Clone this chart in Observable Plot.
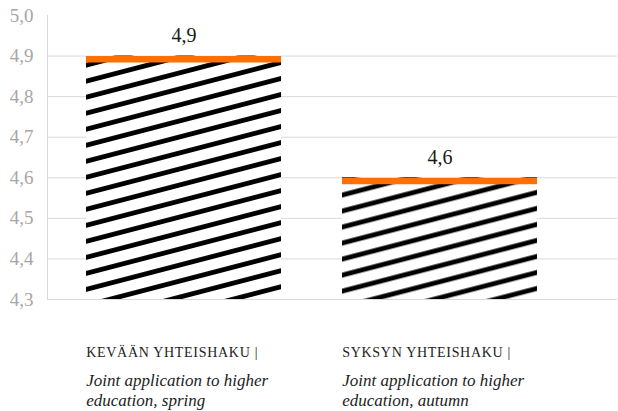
<!DOCTYPE html>
<html>
<head>
<meta charset="utf-8">
<script src="https://cdn.jsdelivr.net/npm/d3@7"></script>
<script src="https://cdn.jsdelivr.net/npm/@observablehq/plot@0.6"></script>
<style>
  html, body { margin: 0; padding: 0; background: #fff; }
  svg { display: block; }
  svg text { font-family: "Liberation Serif", "DejaVu Serif", serif !important; }
  .fi-label text { letter-spacing: 0.7px; }
</style>
</head>
<body>
<div id="chart"></div>
<script>
const categories = ["Kevään yhteishaku", "Syksyn yhteishaku"];
const values = [4.9, 4.6];
const valueLabels = ["4,9", "4,6"];
const labelsFi = ["KEVÄÄN YHTEISHAKU |", "SYKSYN YHTEISHAKU |"];
const labelsEn = ["Joint application to higher\neducation, spring", "Joint application to higher\neducation, autumn"];
const yTicks = [4.3, 4.4, 4.5, 4.6, 4.7, 4.8, 4.9, 5.0];
const gridTicks = [4.3, 4.4, 4.5, 4.6, 4.7, 4.8, 4.9];
const hatchIds = ["hatch0", "hatch1"];

const data = categories.map((c, i) => ({
  cat: c, value: values[i], label: valueLabels[i],
  fi: labelsFi[i], en: labelsEn[i], fill: `url(#${hatchIds[i]})`
}));

const font = "Liberation Serif";
const bw = 195.5;

const svg = Plot.plot({
  width: 618,
  height: 411,
  marginLeft: 47,
  marginRight: 1,
  marginTop: 15,
  marginBottom: 112,
  style: { fontFamily: font, background: "#fff" },
  x: { domain: categories, range: [86, 538], paddingInner: 0.238, paddingOuter: 0, axis: null },
  y: { domain: [4.3, 5.0], axis: null },
  color: { type: "identity" },
  marks: [
    Plot.ruleY(gridTicks, { stroke: "#d9d9d9", strokeWidth: 1 }),
    Plot.frame({ anchor: "left", stroke: "#d9d9d9" }),
    Plot.axisY(yTicks, {
      tickSize: 0, tickPadding: 14, fontSize: 19, color: "#a6a6a6", fontFamily: font,
      tickFormat: d => d.toFixed(1).replace(".", ","), label: null
    }),
    Plot.barY(data, { x: "cat", y1: 4.3, y2: "value", fill: "fill" }),
    Plot.tickY(data, { x: "cat", y: "value", stroke: "#ff7000", strokeWidth: 6.5, dy: 3.25, strokeLinecap: "butt" }),
    Plot.text(data, { x: "cat", y: "value", text: "label", fontSize: 20, fill: "#1a1a1a", fontFamily: font,
      lineAnchor: "bottom", dy: -14 }),
    Plot.text(data, { x: "cat", frameAnchor: "bottom", text: "fi", textAnchor: "start", fontFamily: font,
      dx: -bw / 2, dy: 57, lineAnchor: "bottom", fontSize: 14, className: "fi-label",
      fill: "#222" }),
    Plot.text(data, { x: "cat", frameAnchor: "bottom", text: "en", textAnchor: "start", fontFamily: font,
      dx: -bw / 2, dy: 72, lineAnchor: "top", fontSize: 17, fontStyle: "italic",
      lineHeight: 1.18, fill: "#222" })
  ]
});

const defs = d3.select(svg).insert("defs", ":first-child");
const phases = [4.9, 9.1];
hatchIds.forEach((id, i) => {
  const p = defs.append("pattern")
    .attr("id", id)
    .attr("patternUnits", "userSpaceOnUse")
    .attr("width", 10)
    .attr("height", 15.5)
    .attr("patternTransform", "rotate(-14.6)");
  p.append("rect").attr("width", 10).attr("height", 15.5).attr("fill", "#fff");
  p.append("rect").attr("y", phases[i]).attr("width", 10).attr("height", 4.8).attr("fill", "#000");
});

document.getElementById("chart").appendChild(svg);
</script>
</body>
</html>
